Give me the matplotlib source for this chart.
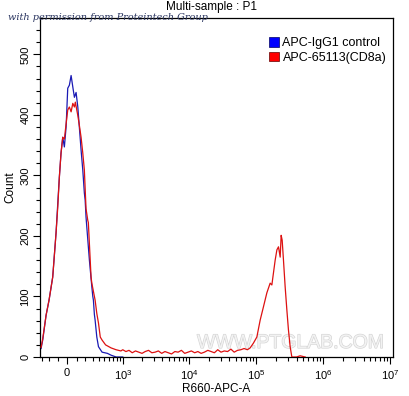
import numpy as np
import matplotlib
matplotlib.use("Agg")
import matplotlib.pyplot as plt
from matplotlib.patches import Patch
import matplotlib.patheffects as pe

plt.rcParams['font.family'] = ['Liberation Sans', 'DejaVu Sans']
plt.rcParams['mathtext.fontset'] = 'custom'
plt.rcParams['mathtext.rm'] = 'Liberation Sans'
plt.rcParams['mathtext.it'] = 'Liberation Sans'

# ---- data ----
blue_x = [-307, -283, -237, -199, -155, -117, -98, -81, -63, -45, -28, -10, 7, 24, 42, 60, 77,
          95, 114, 131, 151, 171, 190, 200, 211, 255, 289, 303, 312, 327, 338, 365, 393, 457,
          566, 652, 785, 936, 1000]
blue_y = [14, 28, 69, 94, 132, 205, 254, 297, 337, 363, 347, 380, 444, 449, 465, 446, 429,
          437, 413, 380, 342, 309, 271, 259, 231, 160, 116, 100, 94, 70, 61, 33, 17, 8,
          6, 3, 0, 0, 0]

red_x = [-307, -283, -237, -199, -155, -117, -98, -81, -63, -45, -28, -10, 7, 24, 42, 60, 77,
         87, 114, 131, 151, 171, 190, 211, 233, 241, 278, 289, 338, 365, 393, 424, 457, 527,
         652, 785, 936,
         1000, 1120, 1250, 1400, 1570, 1760, 1970, 2200, 2470, 2770, 3100, 3470, 3890, 4350,
         4880, 5460, 6120, 6850, 7670, 8590, 9620, 10800, 12100, 13500, 15100, 16900, 19000,
         21300, 23800, 26700, 29900, 33500, 37500, 42000, 47000, 52700, 59000, 66100, 74000,
         81300, 91100, 102400, 114800, 128500, 144400, 161700, 171500, 181200, 192100, 203800,
         215300, 228200, 236000, 244300, 255500, 270700, 286900, 303000, 321500, 340700,
         400000, 453000, 538700]
red_y = [16, 30, 69, 94, 132, 205, 248, 297, 337, 363, 360, 385, 408, 413, 405, 419, 413,
         421, 399, 383, 363, 337, 309, 245, 226, 222, 132, 122, 94, 72, 56, 33, 28, 20,
         15, 12, 10,
         12, 9, 11, 7, 10, 8, 6, 9, 11, 7, 8, 10, 6, 9,
         7, 5, 9, 8, 11, 6, 8, 10, 7, 9, 6, 8, 11,
         9, 7, 12, 8, 10, 9, 13, 8, 11, 12, 14, 12,
         15, 23, 33, 61, 83, 106, 122, 119, 139, 160, 177,
         182, 165, 201, 193, 160, 116, 78, 45, 17, 0,
         0, 2, 0]

series_labels = ['APC-IgG1 control', 'APC-65113(CD8a)']
x_major = [0, 1e3, 1e4, 1e5, 1e6, 1e7]
x_major_labels = ['0', '$10^3$', '$10^4$', '$10^5$', '$10^6$', '$10^7$']
y_major = [0, 100, 200, 300, 400, 500]

# ---- biexponential-like scale ----
W = 302.0
def fwd(x):
    return np.arcsinh(np.asarray(x, dtype=float) / W) / np.log(10)
def inv(y):
    return W * np.sinh(np.asarray(y, dtype=float) * np.log(10))

fig = plt.figure(figsize=(4.09, 3.96), dpi=100)
ax = fig.add_axes([40/409, 1-357/396, (393-40)/409, (357-18)/396])
ax.set_xscale('function', functions=(fwd, inv))

# watermark
ax.text(0.71, 0.04, 'WWW.PTGLAB.COM', transform=ax.transAxes, ha='center', va='center',
        fontsize=14, color='#f2f2f2', zorder=0,
        path_effects=[pe.withStroke(linewidth=0.9, foreground='#d4d4d4')])

ax.plot(blue_x, blue_y, color='#1a1ab4', lw=0.9, zorder=2)
ax.plot(red_x, red_y, color='#dd1111', lw=0.9, zorder=3)

ax.set_xlim(-323, 1.1e7)
ax.set_ylim(0, 560)

ax.set_xticks(x_major)
ax.set_xticklabels(x_major_labels, fontsize=8)
minors = [v for v in range(-300, 1000, 100) if v != 0]
for k in range(3, 7):
    minors += [m * 10**k for m in range(2, 10)]
ax.set_xticks(minors, minor=True)

ax.set_yticks(y_major)
ax.set_yticklabels([str(v) for v in y_major], fontsize=8, rotation=90, va='center')
ax.set_yticks(np.arange(0, 560, 20), minor=True)

ax.tick_params(axis='both', which='major', length=5, width=0.8, color='black', pad=2)
ax.tick_params(axis='both', which='minor', length=3, width=0.8, color='black')
ax.tick_params(axis='x', pad=3)
for s in ax.spines.values():
    s.set_linewidth(0.9)

ax.set_xlabel('R660-APC-A', fontsize=8.5, labelpad=1)
ax.set_ylabel('Count', fontsize=8.5, labelpad=3)
fig.text(211/409, 1-7/396, 'Multi-sample : P1', fontsize=8.5, ha='center', va='center')

handles = [Patch(facecolor='#0000ff', edgecolor='#000060', lw=0.5),
           Patch(facecolor='#ff0000', edgecolor='#600000', lw=0.5)]
ax.legend(handles, series_labels, loc='upper left', bbox_to_anchor=(0.648, 0.944),
          frameon=False, fontsize=9, handlelength=0.8, handleheight=0.8,
          handletextpad=0.3, labelspacing=0.2, borderaxespad=0.0, borderpad=0.0)

fig.text(8/409, 1-17/396, 'with permission from Proteintech Group', fontsize=7,
         family='DejaVu Serif', style='italic', color='#2a3560', ha='left', va='center')

fig.savefig('out.png', dpi=100)
